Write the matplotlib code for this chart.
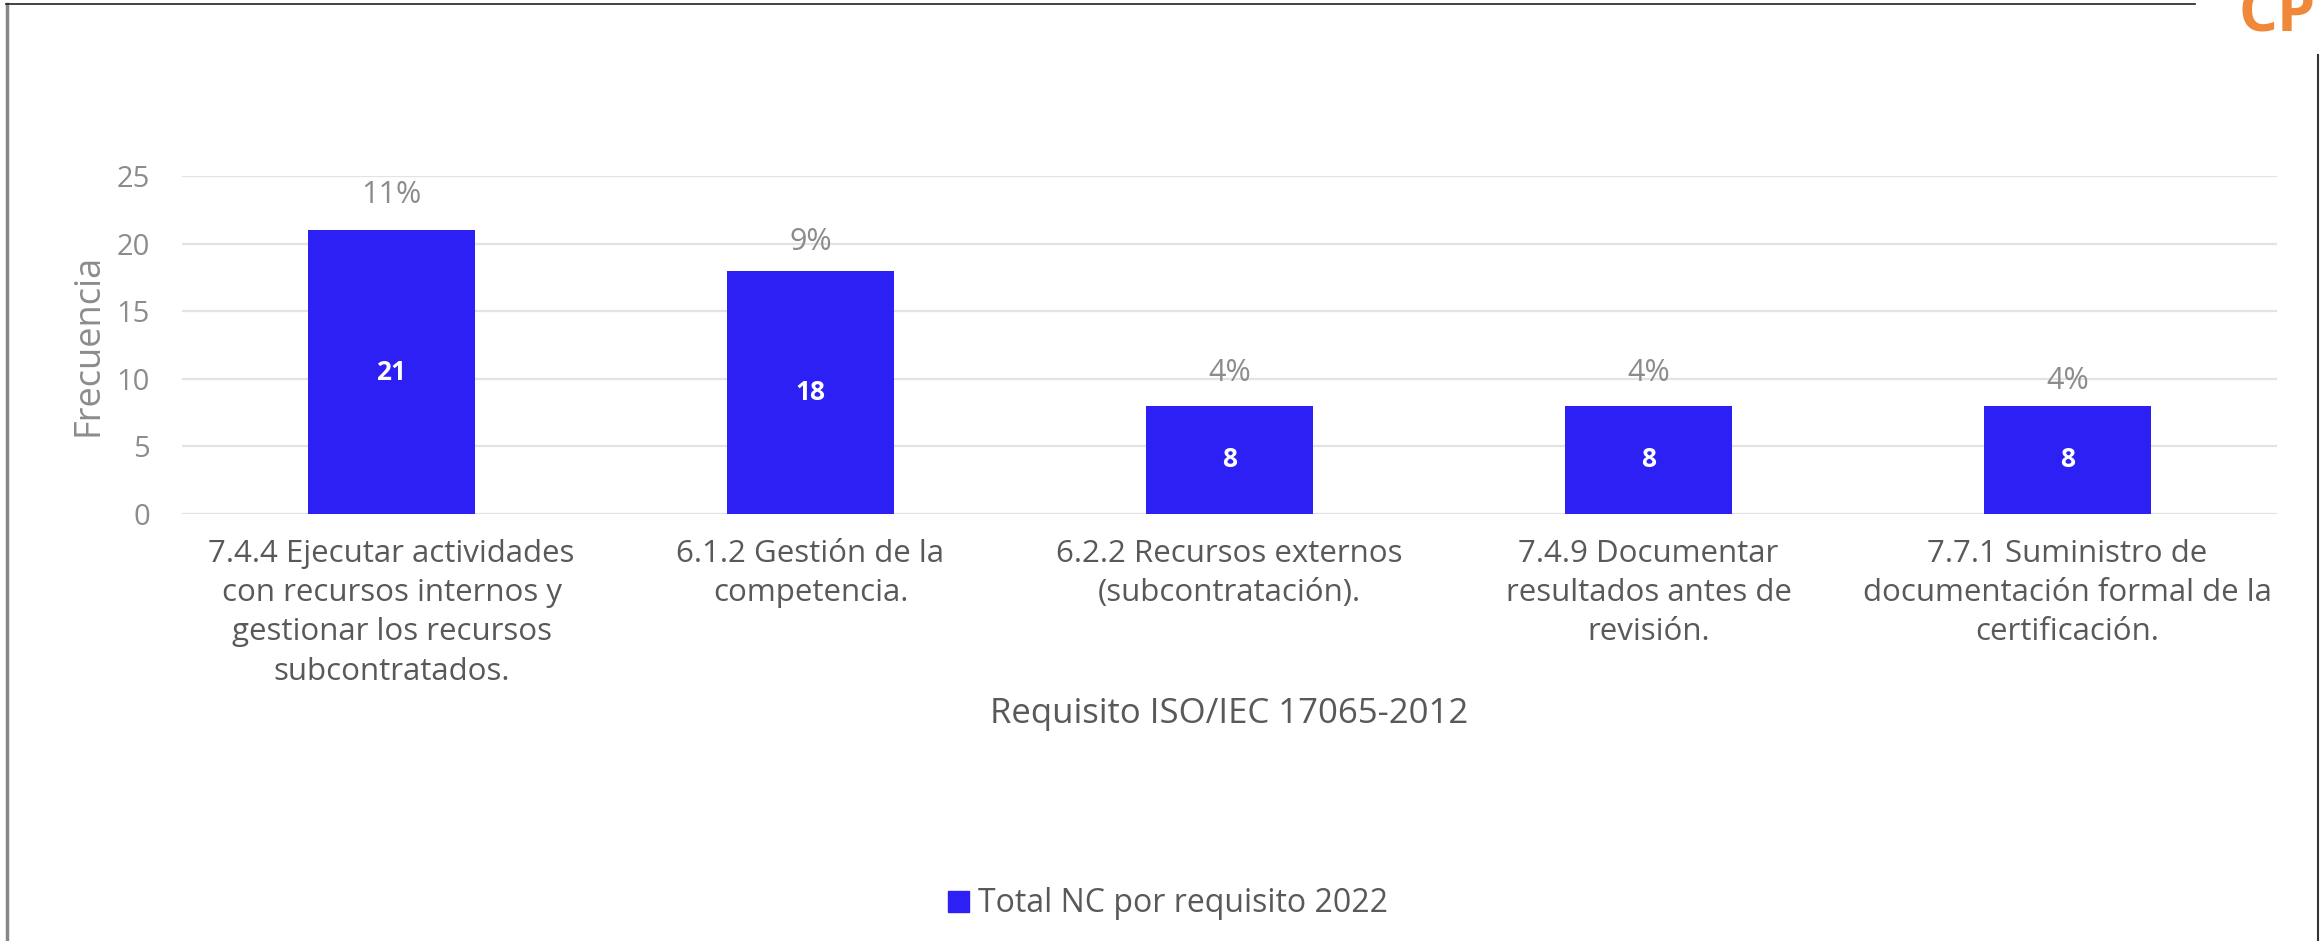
import numpy as np, matplotlib
matplotlib.use("Agg")
import matplotlib.pyplot as plt
from matplotlib.lines import Line2D

plt.rcParams["font.family"] = ["Open Sans", "DejaVu Sans"]

categories = [
    "7.4.4 Ejecutar actividades\ncon recursos internos y\ngestionar los recursos\nsubcontratados.",
    "6.1.2 Gestión de la\ncompetencia.",
    "6.2.2 Recursos externos\n(subcontratación).",
    "7.4.9 Documentar\nresultados antes de\nrevisión.",
    "7.7.1 Suministro de\ndocumentación formal de la\ncertificación.",
]
counts = [21, 18, 8, 8, 8]
pct_labels = ["11%", "9%", "4%", "4%", "4%"]
yticks = [0, 5, 10, 15, 20, 25]

BAR = "#2d20f5"
GREY = "#8c8c8c"
DARK = "#595959"
# offsets (px) of the percent labels above bar tops, as placed in the original
pct_off = [35, 29, 33, 33, 25]

W, H = 2323, 941
fig = plt.figure(figsize=(W / 100, H / 100), dpi=100)
ax = fig.add_axes([182 / W, 1 - 514 / H, (2277 - 182) / W, (514 - 176) / H])

x = np.arange(len(counts))
ax.bar(x, counts, width=0.40, color=BAR, zorder=3)
ax.set_xlim(-0.5, len(counts) - 0.5)
ax.set_ylim(0, 25)
ax.set_yticks(yticks)
ax.yaxis.grid(True, color="#e3e3e3", lw=1.6, zorder=0)
for s in ax.spines.values():
    s.set_visible(False)
ax.tick_params(axis="y", length=0, pad=23, labelsize=21, labelcolor=GREY)
ax.tick_params(axis="x", length=0, pad=18, labelsize=22.5, labelcolor=DARK)
ax.set_xticks(x)
ax.set_xticklabels(categories, linespacing=1.4, va="top")

for xi, c, p, off in zip(x, counts, pct_labels, pct_off):
    ax.text(xi, c / 2, str(c), ha="center", va="center", color="white",
            fontsize=19, fontweight="bold", zorder=4)
    ax.annotate(p, (xi, c), xytext=(0, off * 0.72), textcoords="offset points",
                ha="center", va="center", fontsize=22, color=GREY)

ax.set_ylabel("Frecuencia", fontsize=26, color=GREY, labelpad=7)
fig.text(1229 / W, 1 - 714 / H, "Requisito ISO/IEC 17065-2012", ha="center", va="center",
         fontsize=25, color=DARK)

leg = ax.legend([plt.Rectangle((0, 0), 1, 1, color=BAR)], ["Total NC por requisito 2022"],
                loc="center", bbox_to_anchor=(1168 / W, 1 - 904 / H),
                bbox_transform=fig.transFigure, frameon=False, fontsize=23,
                handlelength=0.65, handleheight=0.65, handletextpad=0.3)
for t in leg.get_texts():
    t.set_color(DARK)

# frame around the chart and logo
fig.add_artist(Line2D([7 / W, 7 / W], [0, 1 - 4 / H], color="#888888", lw=2.5))
fig.add_artist(Line2D([6 / W, 2195 / W], [1 - 4 / H, 1 - 4 / H], color="#222222", lw=1.2))
fig.add_artist(Line2D([2318 / W, 2318 / W], [0, 1 - 55 / H], color="#333333", lw=1.5))
fig.text(2238 / W, 1 - 31 / H, "CP", ha="left", va="baseline", fontsize=44,
         fontweight="bold", color="#f0883a")

fig.savefig("out.png", dpi=100)
